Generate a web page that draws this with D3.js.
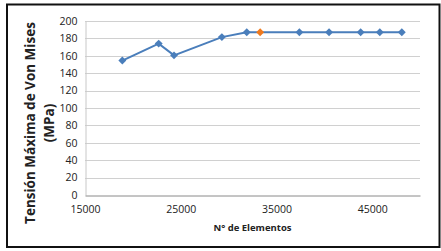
<!DOCTYPE html>
<html>
<head>
<meta charset="utf-8">
<script src="https://cdn.jsdelivr.net/npm/d3@7"></script>
<style>
  body { margin: 0; background: #fff; }
  text { font-family: "Open Sans", "Liberation Sans", sans-serif; }
</style>
</head>
<body>
<div id="container"></div>
<script>
// Data
const elements = [18900, 22700, 24300, 29300, 31900, 37400, 40500, 43800, 45800, 48100];
const stress = [154.5, 174, 160.5, 181.5, 187, 187, 187, 187, 187, 187];
const highlightElements = [33300];
const highlightStress = [187];
const xTicks = [15000, 25000, 35000, 45000];
const yTicks = [0, 20, 40, 60, 80, 100, 120, 140, 160, 180, 200];

const width = 441;
const height = 251;
const margin = { top: 21, left: 85, right: 21, bottom: 56 };

const svg = d3.select("#container")
  .append("svg")
  .attr("width", width)
  .attr("height", height);

// Outer frame
svg.append("rect")
  .attr("x", 7)
  .attr("y", 4.5)
  .attr("width", 432.5)
  .attr("height", 242.5)
  .attr("fill", "none")
  .attr("stroke", "#111")
  .attr("stroke-width", 2);

const xScale = d3.scaleLinear()
  .domain([15000, 50000])
  .range([margin.left, width - margin.right]);

const yScale = d3.scaleLinear()
  .domain([0, 200])
  .range([height - margin.bottom, margin.top]);

// Gridlines
svg.append("g")
  .selectAll("line")
  .data(yTicks.filter(d => d > 0))
  .enter()
  .append("line")
  .attr("x1", xScale(15000))
  .attr("x2", xScale(50000))
  .attr("y1", d => Math.round(yScale(d)) + 0.5)
  .attr("y2", d => Math.round(yScale(d)) + 0.5)
  .attr("stroke", "#d0d0d0")
  .attr("stroke-width", 1);

// Y axis
const yAxis = d3.axisLeft(yScale)
  .tickValues(yTicks)
  .tickSize(0)
  .tickPadding(8);

const gy = svg.append("g")
  .attr("transform", "translate(" + (margin.left + 0.5) + ",0)")
  .call(yAxis);
gy.select(".domain").attr("stroke", "#c8c8c8");
gy.selectAll("text").attr("font-size", 10.5).attr("fill", "#222");

// X axis
const xAxis = d3.axisBottom(xScale)
  .tickValues(xTicks)
  .tickFormat(d3.format("d"))
  .tickSize(0)
  .tickPadding(10);

const gx = svg.append("g")
  .attr("transform", "translate(0," + (Math.round(yScale(0)) + 0.5) + ")")
  .call(xAxis);
gx.select(".domain").attr("stroke", "#8a8a8a");
gx.selectAll("text").attr("font-size", 10.5).attr("fill", "#222");

// Axis titles
svg.append("text")
  .attr("x", (xScale(15000) + xScale(50000)) / 2 + 0)
  .attr("y", 231)
  .attr("text-anchor", "middle")
  .attr("font-size", 9.5)
  .attr("font-weight", "bold")
  .attr("fill", "#222")
  .text("N° de Elementos");

const yTitle = svg.append("text")
  .attr("transform", "translate(35,123) rotate(-90)")
  .attr("text-anchor", "middle")
  .attr("font-size", 13.5)
  .attr("font-weight", "bold")
  .attr("fill", "#222");
yTitle.append("tspan").attr("x", 0).attr("dy", 0).text("Tensión Máxima de Von Mises");
yTitle.append("tspan").attr("x", 0).attr("dy", 19).text("(MPa)");

// Series
const points = elements.map((e, i) => ({ x: e, y: stress[i] }));
const line = d3.line()
  .x(d => xScale(d.x))
  .y(d => yScale(d.y));

svg.append("path")
  .datum(points)
  .attr("d", line)
  .attr("fill", "none")
  .attr("stroke", "#4a7ebb")
  .attr("stroke-width", 2);

const diamond = d3.symbol().type(d3.symbolDiamond2).size(40);

svg.append("g")
  .selectAll("path")
  .data(points)
  .enter()
  .append("path")
  .attr("d", diamond)
  .attr("transform", d => "translate(" + xScale(d.x) + "," + yScale(d.y) + ")")
  .attr("fill", "#4a7ebb");

svg.append("g")
  .selectAll("path")
  .data(highlightElements.map((e, i) => ({ x: e, y: highlightStress[i] })))
  .enter()
  .append("path")
  .attr("d", diamond)
  .attr("transform", d => "translate(" + xScale(d.x) + "," + yScale(d.y) + ")")
  .attr("fill", "#f07a1e");
</script>
</body>
</html>
